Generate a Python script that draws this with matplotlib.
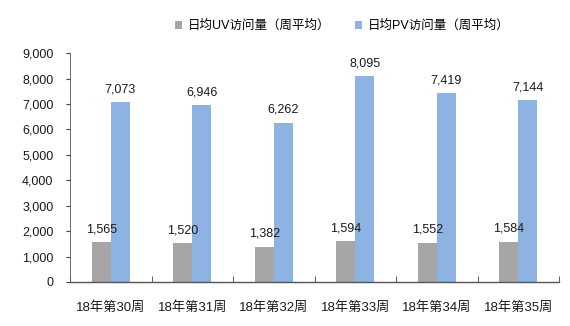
import numpy as np
import matplotlib.pyplot as plt
from matplotlib.ticker import FuncFormatter

plt.rcParams['font.family'] = ['Liberation Sans', 'Noto Sans CJK SC', 'DejaVu Sans']

# ---------------- data ----------------
weeks = ["18年第30周", "18年第31周", "18年第32周", "18年第33周", "18年第34周", "18年第35周"]
uv = [1565, 1520, 1382, 1594, 1552, 1584]
pv = [7073, 6946, 6262, 8095, 7419, 7144]
uv_name = "日均UV访问量（周平均）"
pv_name = "日均PV访问量（周平均）"

GRAY = "#A6A6A6"
BLUE = "#8DB3E2"
TXT = "#1a1a1a"

fig = plt.figure(figsize=(5.7, 3.26), dpi=100)
ax = fig.add_axes([0.1228, 0.135, 0.858, 0.702])

x = np.arange(len(weeks))
w = 0.235
b1 = ax.bar(x - w / 2, uv, w, color=GRAY, label=uv_name)
b2 = ax.bar(x + w / 2, pv, w, color=BLUE, label=pv_name)

for bars, vals in ((b1, uv), (b2, pv)):
    for r, v in zip(bars, vals):
        ax.annotate(f"{v:,}", (r.get_x() + r.get_width() / 2, v),
                    xytext=(0, 5), textcoords="offset points",
                    ha="center", va="bottom", fontsize=9, color=TXT)

ax.set_xlim(-0.5, len(weeks) - 0.5)
ax.set_ylim(0, 9000)
ax.set_yticks(np.arange(0, 9001, 1000))
ax.yaxis.set_major_formatter(FuncFormatter(lambda v, p: f"{int(v):,}"))
ax.tick_params(axis="y", direction="out", length=3, pad=9, labelsize=9,
               colors="#444444", labelcolor=TXT)

ax.set_xticks(x)
ax.set_xticklabels(weeks)
ax.set_xticks(np.arange(-0.5, len(weeks), 1), minor=True)
ax.tick_params(axis="x", which="major", length=0, pad=14, labelsize=9.5, labelcolor=TXT)
ax.tick_params(axis="x", which="minor", direction="in", length=4, colors="#444444")

for s in ("top", "right"):
    ax.spines[s].set_visible(False)
for s in ("left", "bottom"):
    ax.spines[s].set_color("#555555")
    ax.spines[s].set_linewidth(1.0)
ax.spines["left"].set_linewidth(0.6)

fig.legend(handles=[b1, b2], loc="center", bbox_to_anchor=(0.6, 0.92), ncol=2,
           frameon=False, fontsize=9, handlelength=0.6, handleheight=0.6,
           handletextpad=0.4, columnspacing=2.0)

fig.savefig("out.png", dpi=100)
